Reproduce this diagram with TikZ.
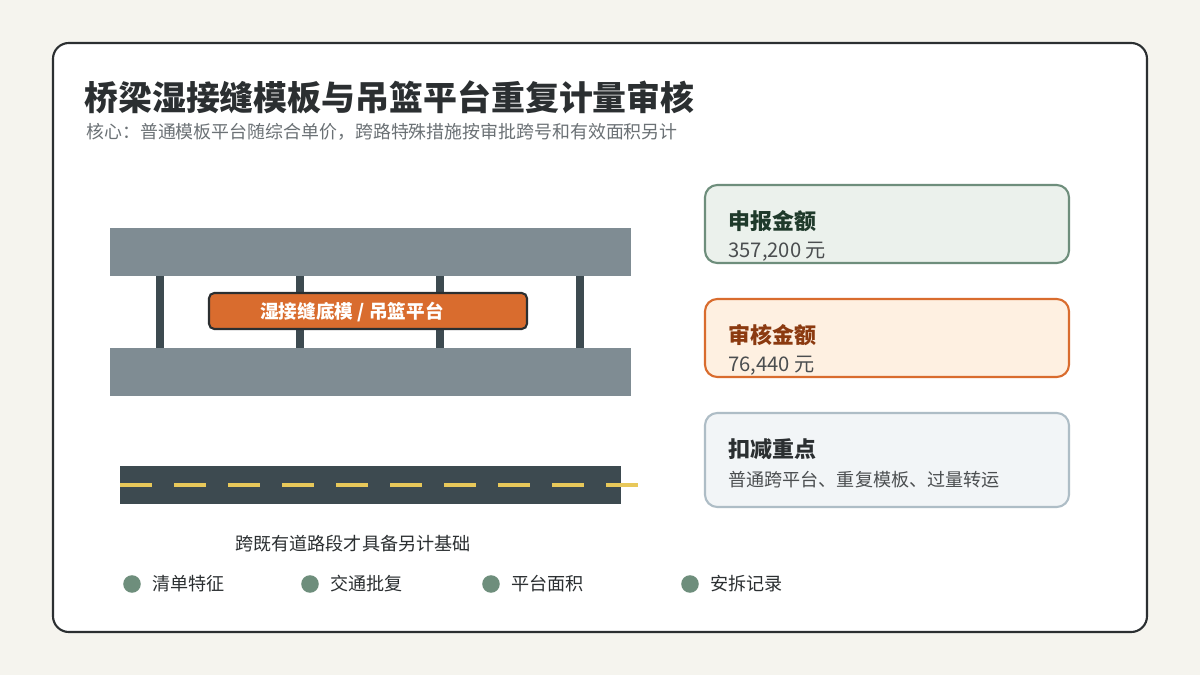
\documentclass[tikz,border=0pt]{standalone}
\usepackage{fontspec}
\setmainfont{Noto Sans CJK SC}
\usetikzlibrary{positioning}
\definecolor{bgpage}{HTML}{F5F4EE}
\definecolor{ink}{HTML}{2B2F31}
\definecolor{subgray}{HTML}{6B7175}
\definecolor{beam}{HTML}{7F8C93}
\definecolor{post}{HTML}{3D4A50}
\definecolor{orng}{HTML}{D96C2E}
\definecolor{lane}{HTML}{E8C85A}
\definecolor{sage}{HTML}{6E8E7C}
\definecolor{sagefill}{HTML}{EBF1EC}
\definecolor{peach}{HTML}{FEF0E1}
\definecolor{rust}{HTML}{8B3A10}
\definecolor{mist}{HTML}{F2F5F7}
\definecolor{mistline}{HTML}{AEBDC6}
\definecolor{deepgreen}{HTML}{1F3A2B}
\tikzset{
	card/.style={draw,line width=1.2pt,rounded corners=7pt},
	cardhead/.style={anchor=west,font=\fontsize{12.5}{14}\selectfont\bfseries,inner sep=0pt},
	cardval/.style={anchor=west,font=\fontsize{11.5}{13}\selectfont,text=ink!85,inner sep=0pt},
	legdot/.style={circle,fill=sage,minimum size=10pt,inner sep=0pt},
	leglabel/.style={right=6pt of #1,font=\fontsize{10.3}{12}\selectfont,text=ink,inner sep=0pt}
}
\begin{document}
\begin{tikzpicture}[x=0.02cm,y=-0.02cm]
	\fill[bgpage] (0,0) rectangle (1200,675);
	\draw[ink,line width=1.2pt,fill=white,rounded corners=9pt] (53,43) rectangle (1147,632);
	% title
	\node[anchor=west,inner sep=0pt,text=ink,font=\fontsize{19.3}{22}\selectfont\bfseries] (title) at (84,97) {桥梁湿接缝模板与吊篮平台重复计量审核};
	\node[anchor=west,inner sep=0pt,text=subgray,font=\fontsize{10.2}{12}\selectfont] (subtitle) at (86,132) {核心：普通模板平台随综合单价，跨路特殊措施按审批跨号和有效面积另计};
	% bridge section
	\fill[beam] (110,228) rectangle (631,276);
	\fill[beam] (110,348) rectangle (631,396);
	\foreach \px in {160,300,440,580}
		\fill[post] (\px-4,276) rectangle (\px+4,348);
	\draw[ink,line width=1.2pt,fill=orng,rounded corners=3pt] (209,293) rectangle (527,329);
	\node[text=white,font=\fontsize{10.6}{12}\selectfont\bfseries] (platform) at (352,312) {湿接缝底模 / 吊篮平台};
	% road
	\fill[post] (120,466) rectangle (621,504);
	\coordinate (laneA) at (120,485);
	\coordinate (laneB) at (638,485);
	\draw[lane,line width=2.5pt,dash pattern=on 32*0.02cm off 22*0.02cm] (laneA) -- (laneB);
	\node[font=\fontsize{10.3}{12}\selectfont,text=ink] (caption) at (353,544) {跨既有道路段才具备另计基础};
	% legend
	\foreach \lx/\lname/\ltext in {132/d1/清单特征,310/d2/交通批复,491/d3/平台面积,690/d4/安拆记录}{
		\node[legdot] (\lname) at (\lx,584) {};
		\node[leglabel=\lname] {\ltext};
	}
	% cards
	\draw[card,draw=sage,fill=sagefill] (705,185) rectangle (1069,263);
	\node[cardhead,text=deepgreen] (claim) at (728,221) {申报金额};
	\node[cardval] (claimval) at (728,252) {357,200 元};
	\draw[card,draw=orng,fill=peach] (705,299) rectangle (1069,377);
	\node[cardhead,text=rust] (audit) at (728,335) {审核金额};
	\node[cardval] (auditval) at (728,366) {76,440 元};
	\draw[card,draw=mistline,fill=mist] (705,413) rectangle (1069,507);
	\node[cardhead,text=ink] (cut) at (728,449) {扣减重点};
	\node[cardval,font=\fontsize{10.3}{12}\selectfont] (cutval) at (728,480) {普通跨平台、重复模板、过量转运};
\end{tikzpicture}
\end{document}
